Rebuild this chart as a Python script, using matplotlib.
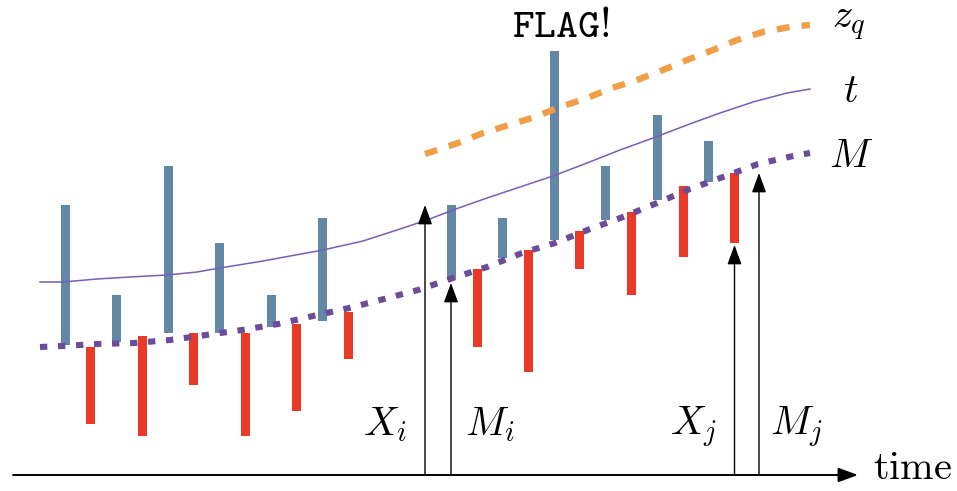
import matplotlib
matplotlib.use("Agg")
import matplotlib.pyplot as plt

plt.rcParams['mathtext.fontset'] = 'cm'

H = 491  # picture height used to turn read positions into upward values

# Bars: time position, lower end, upper end (values measured upward)
blue_x = [65, 116, 168, 219.5, 271, 322, 451, 502.5, 554, 605.5, 657, 708]
blue_low = [146, 149, 158, 158, 164, 170, 211, 233, 251, 271, 291, 309]
blue_high = [286, 196, 325, 248, 196, 273, 286, 273, 440, 325, 376, 350]

red_x = [90.5, 142, 193.7, 245, 296.5, 348, 477, 528, 579.5, 631, 683, 734.5]
red_high = [144, 155, 158, 158, 167, 179, 222, 241, 260, 279, 305, 318]
red_low = [67, 55, 106, 55, 80, 132, 144, 119, 222, 196, 234, 248]

# Curves (read positions)
m_x = [40, 62, 98, 134, 170, 206, 242, 278, 313, 349, 384, 418, 453,
       487, 522, 555, 590, 623, 657, 690, 723, 758, 793, 810]
m_py = [347, 346, 344, 343, 340, 335, 330, 324, 316, 308, 299, 290, 278,
        267, 253, 243, 229, 217, 203, 189, 177, 164, 156, 153]
m_y = [H - p for p in m_py]

t_x = [40, 63, 97, 130, 167, 197, 220, 263, 323, 363, 397, 427, 453, 487,
       520, 553, 587, 620, 653, 687, 720, 753, 787, 810]
t_py = [282, 282, 279, 277, 275, 272, 268, 261, 250, 241, 230, 220, 210, 198,
        187, 176, 163, 150, 138, 125, 113, 102, 93, 89]
t_y = [H - p for p in t_py]

zq_x = [425, 458, 483, 509, 535, 560, 587, 612, 637, 663, 687, 713, 737, 763, 790, 810]
zq_py = [154, 143, 133, 125, 117, 107, 98, 88, 80, 70, 60, 50, 40, 32, 27, 25]
zq_y = [H - p for p in zq_py]

# Arrows from the time axis
arrow_x = [425, 451, 734.5, 759]
arrow_tip = [286, 208, 246, 318]
arrow_labels = [r'$X_i$', r'$M_i$', r'$X_j$', r'$M_j$']
arrow_label_x = [363, 465, 670, 770]

axis_y = 16

BLUE = '#6388a6'
RED = '#e83a26'
ORANGE = '#f09f48'
PURPLE_DOT = '#6a4c9b'
PURPLE_T = '#7b5db3'

fig = plt.figure(figsize=(9.57, 4.91), dpi=100)
ax = fig.add_axes([0, 0, 1, 1])
ax.set_xlim(0, 957)
ax.set_ylim(0, H)
ax.axis('off')

bw = 9
ax.bar(blue_x, [h - l for h, l in zip(blue_high, blue_low)], bottom=blue_low,
       width=bw, color=BLUE, zorder=2)
ax.bar(red_x, [h - l for h, l in zip(red_high, red_low)], bottom=red_low,
       width=bw, color=RED, zorder=2)

ax.plot(t_x, t_y, color=PURPLE_T, lw=1.1, zorder=3, solid_joinstyle='round')
ax.plot(m_x, m_y, color=PURPLE_DOT, lw=4.4, dashes=(1.2, 1.75),
        dash_capstyle='butt', zorder=4)
ax.plot(zq_x, zq_y, color=ORANGE, lw=4.6, dashes=(2.0, 1.9),
        dash_capstyle='butt', zorder=3)

# time axis
ax.annotate('', xy=(858, axis_y), xytext=(13, axis_y),
            arrowprops=dict(arrowstyle='-|>,head_length=0.6,head_width=0.22',
                            mutation_scale=20, lw=1.4, color='black',
                            shrinkA=0, shrinkB=0), zorder=5)
ax.text(873, axis_y - 4, r'$\mathrm{time}$', fontsize=29, ha='left', va='baseline')

for x, tip in zip(arrow_x, arrow_tip):
    ax.annotate('', xy=(x, tip), xytext=(x, axis_y),
                arrowprops=dict(arrowstyle='-|>,head_length=0.6,head_width=0.22',
                                mutation_scale=20, lw=1.0, color='black',
                                shrinkA=0, shrinkB=0), zorder=5)
for lx, lab in zip(arrow_label_x, arrow_labels):
    ax.text(lx, H - 435, lab, fontsize=29, ha='left', va='baseline')

ax.text(832, H - 28, r'$z_q$', fontsize=29, ha='left', va='baseline')
ax.text(843, H - 102, r'$t$', fontsize=29, ha='left', va='baseline')
ax.text(829, H - 167, r'$M$', fontsize=29, ha='left', va='baseline')
ax.text(561, H - 37, r'$\mathtt{FLAG!}$', fontsize=30, ha='center', va='baseline')

fig.savefig('out.png', dpi=100)
